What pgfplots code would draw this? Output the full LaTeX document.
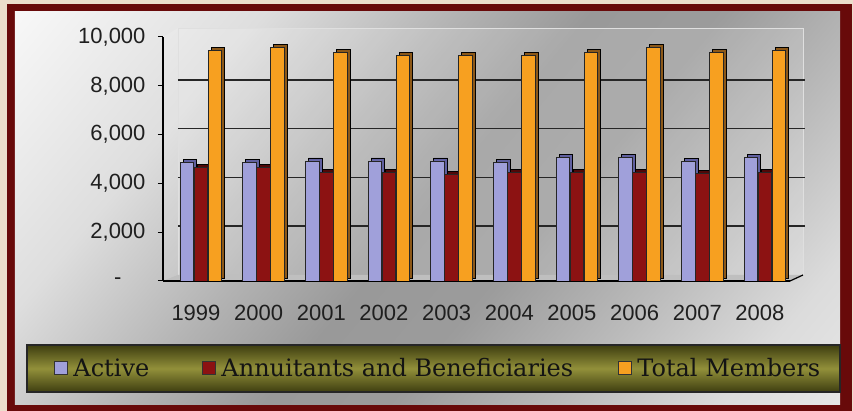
\documentclass[border=0pt]{standalone}
\usepackage{pgfplots}
\pgfplotsset{compat=1.18}
\usepackage{pgfplotstable}
\usepackage{fontspec}
\setmainfont{DejaVu Serif}
\newfontfamily\tickfont{Liberation Sans}

\definecolor{pagebeige}{RGB}{236,222,204}
\definecolor{framered}{RGB}{104,10,10}
\definecolor{activefill}{RGB}{160,160,218}
\definecolor{activeside}{RGB}{96,96,160}
\definecolor{annfill}{RGB}{140,18,18}
\definecolor{annside}{RGB}{80,8,8}
\definecolor{totalfill}{RGB}{247,160,32}
\definecolor{totalside}{RGB}{140,88,24}
\definecolor{legdark}{RGB}{62,62,16}
\definecolor{legmid}{RGB}{146,144,58}

% diagonal grey sweep of the chart panel
\pgfdeclarehorizontalshading{panelsweep}{100bp}{%
  color(0bp)=(white); color(15bp)=(white!97!black); color(30bp)=(black!13);
  color(42bp)=(black!30); color(50bp)=(black!40); color(58bp)=(black!39);
  color(68bp)=(black!27); color(78bp)=(black!14); color(88bp)=(black!8);
  color(100bp)=(black!8)}

% membership counts by fiscal year
\pgfplotstableread{
year active annuit total
1999 4850 4670 9450
2000 4850 4670 9560
2001 4920 4440 9360
2002 4920 4440 9260
2003 4920 4370 9260
2004 4850 4440 9260
2005 5050 4440 9360
2006 5080 4440 9560
2007 4890 4400 9360
2008 5050 4440 9450
}\members

\begin{document}
\begin{tikzpicture}
% page, frame and shaded panel
\fill[pagebeige] (-163pt,-130pt) rectangle (690pt,281pt);
\fill[framered] (-156pt,-130pt) rectangle (689pt,277pt);
\shade[shading=panelsweep, shading angle=-40]
  (-148pt,-124pt) rectangle (677pt,269pt);
% walls and floor of the plot box
\fill[white, opacity=0.16] (15pt,6pt) rectangle (640pt,253pt);
\draw[white!75!gray, line width=0.8pt] (15pt,6pt) rectangle (640pt,253pt);
\fill[white, opacity=0.12] (0pt,0pt) -- (15pt,6pt) -- (15pt,253pt) -- (0pt,244pt) -- cycle;
\fill[black!25] (0pt,0pt) -- (627pt,0pt) -- (640pt,6pt) -- (15pt,6pt) -- cycle;
\draw[black, line width=1.2pt] (627pt,0pt) -- (640pt,6pt);
% legend band
\shade[top color=legdark, bottom color=legdark, middle color=legmid]
  (-136pt,-111pt) rectangle (677pt,-64pt);
\draw[black!85, line width=1.5pt] (-136pt,-111pt) rectangle (677pt,-64pt);

\begin{axis}[
  at={(0pt,0pt)}, anchor=south west,
  scale only axis, width=627pt, height=244pt,
  xmin=-0.606, xmax=9.40, ymin=0, ymax=10000,
  ybar, bar width=13.5pt,
  axis x line*=bottom, axis y line*=left,
  axis line style={-, black, line width=1.2pt},
  tick align=outside, major tick length=5pt,
  tick style={black, line width=1pt},
  xtick={0,...,9},
  xticklabels={1999,2000,2001,2002,2003,2004,2005,2006,2007,2008},
  xtick style={draw=none},
  scaled y ticks=false,
  ytick={0,2000,4000,6000,8000,10000},
  yticklabels={{-\hspace*{24pt}},{2,000},{4,000},{6,000},{8,000},{10,000}},
  extra y ticks={2000,4000,6000,8000},
  extra y tick labels={},
  extra y tick style={ymajorgrids=true, major tick length=0pt,
    major grid style={black!85, line width=1.7pt, xshift=15pt, yshift=6pt}},
  /pgf/number format/assume math mode=true,
  ticklabel style={font=\fontsize{22}{24}\tickfont, text=black!88},
  xticklabel style={yshift=-16pt, xshift=-5pt},
  yticklabel style={xshift=-9pt},
  legend columns=3,
  legend style={at={(-0.1738,-0.3566)}, anchor=west, draw=none, fill=none,
    inner sep=0pt, font=\fontsize{24}{26}\selectfont, text=black!92,
    /tikz/every odd column/.append style={column sep=3pt},
    /tikz/column 2/.style={column sep=51pt},
    /tikz/column 4/.style={column sep=43pt}},
  legend image code/.code={\draw[#1, draw=black!80, line width=1.2pt] (0pt,-6.5pt) rectangle (13pt,6.5pt);},
]
% each series: a darker depth copy behind, then the front face
\addplot[forget plot, fill=activeside, draw=black, line width=0.8pt, bar shift=-14pt, xshift=3pt, yshift=3pt]
  table[x expr=\coordindex, y=active]{\members};
\addplot[fill=activefill, draw=black!85, line width=0.8pt, bar shift=-14pt]
  table[x expr=\coordindex, y=active]{\members};
\addplot[forget plot, fill=annside, draw=black, line width=0.8pt, bar shift=0pt, xshift=3pt, yshift=3pt]
  table[x expr=\coordindex, y=annuit]{\members};
\addplot[fill=annfill, draw=black!85, line width=0.8pt, bar shift=0pt]
  table[x expr=\coordindex, y=annuit]{\members};
\addplot[forget plot, fill=totalside, draw=black, line width=0.8pt, bar shift=14pt, xshift=3pt, yshift=3pt]
  table[x expr=\coordindex, y=total]{\members};
\addplot[fill=totalfill, draw=black!85, line width=0.8pt, bar shift=14pt]
  table[x expr=\coordindex, y=total]{\members};
\legend{Active, Annuitants and Beneficiaries, Total Members}
\end{axis}
\pgfresetboundingbox
\useasboundingbox (-163pt,-130pt) rectangle (690pt,281pt);
\end{tikzpicture}
\end{document}
